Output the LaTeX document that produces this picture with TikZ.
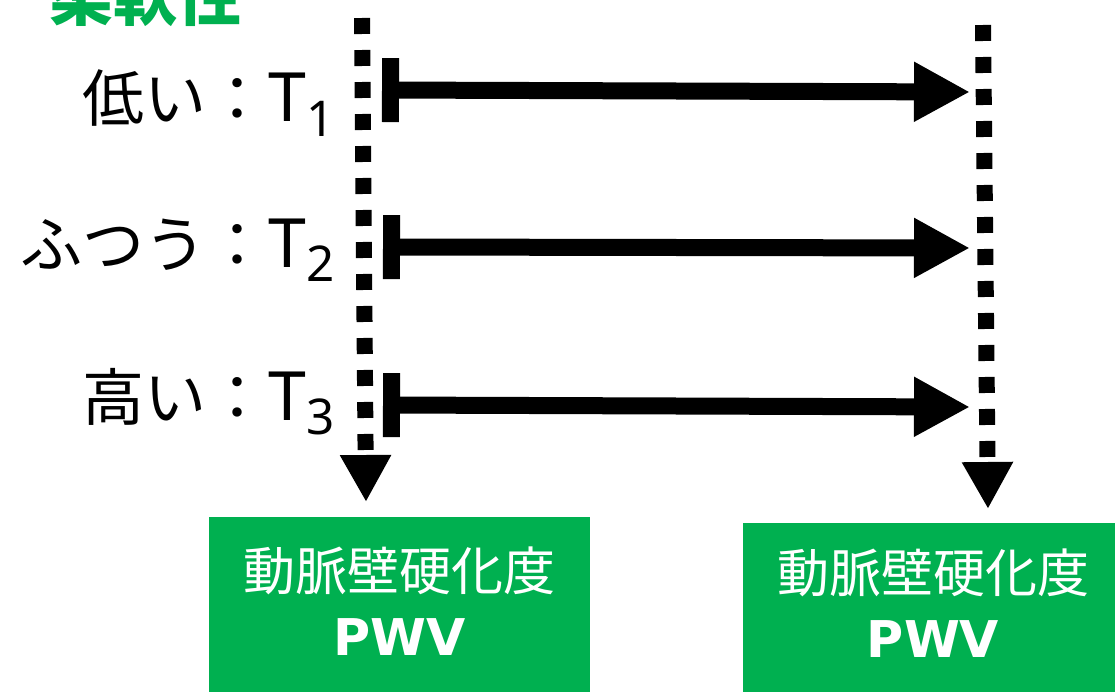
\documentclass[tikz,border=0pt]{standalone}
\usepackage{fontspec}
\usetikzlibrary{arrows.meta}
\newfontfamily\jpfont{Noto Sans CJK JP}
\newfontfamily\latfont{Noto Sans}
\newfontfamily\pwvfont{DejaVu Sans}
\definecolor{okgreen}{HTML}{00B050}
\tikzset{
  lab/.style={inner sep=0pt, anchor=base east, text=black},
  dotline/.style={line width=12pt, dash pattern=on 12pt off 12pt, -{Triangle[length=35.25pt,width=36pt]}},
  harrow/.style={line width=12.75pt, {Bar[width=48pt]}-{Triangle[length=42pt,width=42pt]}},
  gbox/.style={fill=okgreen, draw=none, inner sep=0pt, anchor=north west},
  btxt/.style={inner sep=0pt, anchor=base, text=white},
}
\newcommand{\lbl}[2]{{\fontsize{46.5pt}{50pt}\jpfont #1}{\fontsize{51pt}{55pt}\latfont T}\raisebox{-11pt}{\fontsize{37pt}{40pt}\latfont #2}}
\begin{document}
\begin{tikzpicture}[x=0.75pt,y=-0.75pt]
\useasboundingbox (0,0) rectangle (1115,692);
\clip (0,0) rectangle (1115,692);
% top heading (cut off)
\node[inner sep=0pt, anchor=base west, text=okgreen] (head) at (49,21) {\fontsize{48pt}{50pt}\jpfont\bfseries 柔軟性};
% labels
\node[lab] (l1) at (335,122) {\lbl{低い：}{1}};
\node[lab] (l2) at (335,267) {\lbl{ふつう：}{2}};
\node[lab] (l3) at (335,420) {\lbl{高い：}{3}};
% boxes
\node[gbox, minimum width=285.75pt, minimum height=135pt] (boxL) at (209,517) {};
\node[gbox, minimum width=285pt, minimum height=135pt] (boxR) at (743,523) {};
\node[btxt] (bl1) at (399.5,590) {\fontsize{39pt}{42pt}\jpfont 動脈壁硬化度};
\node[btxt] (bl2) at (399.5,655) {\fontsize{38pt}{40pt}\pwvfont\bfseries PWV};
\node[btxt] (br1) at (933,592) {\fontsize{39pt}{42pt}\jpfont 動脈壁硬化度};
\node[btxt] (br2) at (933,657) {\fontsize{38pt}{40pt}\pwvfont\bfseries PWV};
% dotted vertical arrows
\coordinate (vLs) at (362,18);
\coordinate (vLe) at (366,502);
\coordinate (vRs) at (983,25);
\coordinate (vRe) at (988,509);
\draw[dotline] (vLs) -- (vLe);
\draw[dotline] (vRs) -- (vRe);
% horizontal arrows
\coordinate (a1s) at (382,90);
\coordinate (a1e) at (970,92);
\coordinate (a2s) at (383,247);
\coordinate (a2e) at (970,248);
\coordinate (a3s) at (383,405);
\coordinate (a3e) at (970,407);
\draw[harrow] (a1s) -- (a1e);
\draw[harrow] (a2s) -- (a2e);
\draw[harrow] (a3s) -- (a3e);
\end{tikzpicture}
\end{document}
